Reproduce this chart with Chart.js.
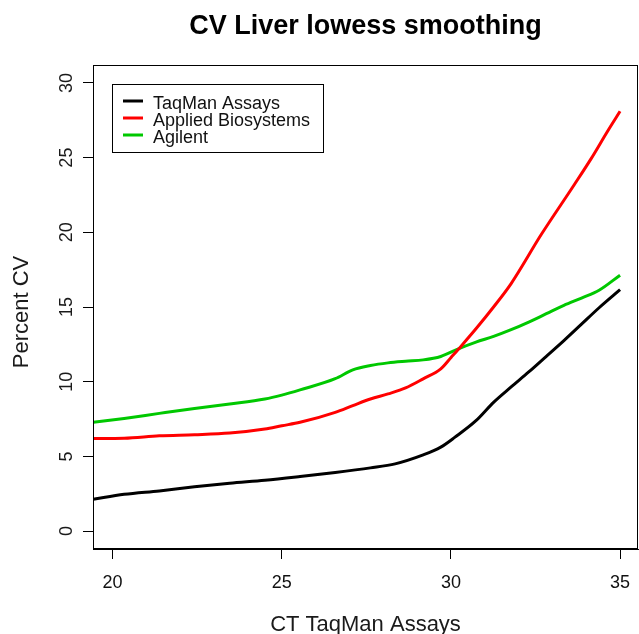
<!DOCTYPE html>
<html><head><meta charset="utf-8">
<script src="https://cdn.jsdelivr.net/npm/chart.js@4.4.0/dist/chart.umd.min.js"></script>
<style>html,body{margin:0;padding:0;background:#fff;}</style>
</head><body>
<canvas id="c" width="639" height="634"></canvas>
<script>
const chartTitle = "CV Liver lowess smoothing";
const xAxisTitle = "CT TaqMan Assays";
const yAxisTitle = "Percent CV";
const seriesNames = ["TaqMan Assays", "Applied Biosystems", "Agilent"];
const seriesColors = ["#000000", "#ff0000", "#00c800"];
const xTicks = [20, 25, 30, 35];
const yTicks = [0, 5, 10, 15, 20, 25, 30];

const taqmanX = [19.43, 20.34, 21.38, 22.42, 23.46, 24.50, 25.54, 26.58, 27.62, 28.35, 29.18, 29.70, 30.11, 30.74, 31.26, 31.78, 32.30, 32.82, 33.34, 33.86, 34.38, 35.00];
const taqmanY = [2.13, 2.46, 2.69, 2.96, 3.20, 3.40, 3.65, 3.92, 4.23, 4.50, 5.10, 5.62, 6.27, 7.39, 8.62, 9.65, 10.65, 11.70, 12.75, 13.85, 14.95, 16.16];

const appliedX = [19.43, 20.34, 21.38, 22.42, 23.46, 24.50, 25.00, 25.54, 26.58, 27.10, 27.62, 28.14, 28.66, 29.18, 29.70, 30.01, 30.32, 30.74, 31.26, 31.78, 32.67, 33.65, 34.15, 34.64, 35.00];
const appliedY = [6.20, 6.22, 6.38, 6.45, 6.56, 6.83, 7.05, 7.28, 7.95, 8.40, 8.84, 9.18, 9.58, 10.19, 10.86, 11.64, 12.43, 13.54, 15.00, 16.57, 19.85, 23.20, 24.95, 26.80, 28.10];

const agilentX = [19.43, 20.34, 21.38, 22.42, 23.46, 24.50, 25.00, 25.54, 26.58, 27.10, 27.62, 28.14, 28.66, 29.18, 29.70, 30.22, 30.74, 31.26, 31.78, 32.30, 32.82, 33.34, 33.86, 34.38, 35.00];
const agilentY = [7.28, 7.54, 7.88, 8.21, 8.51, 8.84, 9.10, 9.45, 10.20, 10.79, 11.08, 11.26, 11.37, 11.46, 11.69, 12.20, 12.65, 13.03, 13.48, 13.99, 14.55, 15.11, 15.60, 16.12, 17.13];

const pts = (xs, ys) => xs.map((x, i) => ({x: x, y: ys[i]}));
const FONT = "'Liberation Sans', Arial, 'DejaVu Sans', sans-serif";

const decorPlugin = {
  id: 'decor',
  afterDatasetsDraw(chart) {
    const ctx = chart.ctx, a = chart.chartArea;
    ctx.save();
    ctx.strokeStyle = '#000'; ctx.lineWidth = 1;
    ctx.strokeRect(Math.round(a.left) + 0.5, Math.round(a.top) + 0.5, Math.round(a.right - a.left) - 1, Math.round(a.bottom - a.top) - 1);
    ctx.restore();
  },
  afterDraw(chart) {
    const ctx = chart.ctx, a = chart.chartArea;
    const ys = chart.scales.y;
    ctx.save();
    // title
    ctx.fillStyle = '#000';
    ctx.font = "bold 27px " + FONT;
    ctx.textAlign = 'center'; ctx.textBaseline = 'alphabetic';
    ctx.fillText(chartTitle, (a.left + a.right) / 2, 34);
    // x axis title
    ctx.fillStyle = '#1a1a1a';
    ctx.font = "22px " + FONT;
    ctx.fillText(xAxisTitle, (a.left + a.right) / 2, 631);
    // y axis title
    ctx.save();
    ctx.translate(28, (a.top + a.bottom) / 2 + 5);
    ctx.rotate(-Math.PI / 2);
    ctx.fillText(yAxisTitle, 0, 0);
    ctx.restore();
    // y tick labels (rotated, as in R)
    ctx.font = "18px " + FONT;
    yTicks.forEach(v => {
      const py = ys.getPixelForValue(v);
      ctx.save();
      ctx.translate(72, py);
      ctx.rotate(-Math.PI / 2);
      ctx.fillText(String(v), 0, 0);
      ctx.restore();
    });
    // legend
    const lx = 112, ly = 84, lw = 211, lh = 68;
    ctx.fillStyle = '#fff';
    ctx.fillRect(lx, ly, lw, lh);
    ctx.strokeStyle = '#000'; ctx.lineWidth = 1;
    ctx.strokeRect(lx + 0.5, ly + 0.5, lw, lh);
    ctx.font = "18px " + FONT;
    ctx.textAlign = 'left';
    seriesNames.forEach((name, i) => {
      const rowY = 101 + i * 17;
      ctx.strokeStyle = seriesColors[i]; ctx.lineWidth = 3;
      ctx.beginPath(); ctx.moveTo(123, rowY); ctx.lineTo(143, rowY); ctx.stroke();
      ctx.fillStyle = '#111';
      ctx.fillText(name, 153, rowY + 7.5);
    });
    ctx.restore();
  }
};

const mkDs = (i, xs, ys) => ({
  label: seriesNames[i], data: pts(xs, ys), borderColor: seriesColors[i],
  borderWidth: 3, pointRadius: 0, fill: false, cubicInterpolationMode: 'monotone'
});

new Chart(document.getElementById('c'), {
  type: 'line',
  data: { datasets: [mkDs(0, taqmanX, taqmanY), mkDs(1, appliedX, appliedY), mkDs(2, agilentX, agilentY)] },
  options: {
    responsive: false, animation: false, devicePixelRatio: 1,
    layout: { padding: { top: 65, right: 1, left: 0, bottom: 0 } },
    plugins: { legend: { display: false }, title: { display: false }, tooltip: { enabled: false } },
    scales: {
      x: {
        type: 'linear', min: 19.42, max: 35.53,
        afterBuildTicks: s => { s.ticks = xTicks.map(v => ({ value: v })); },
        afterFit: s => { s.height = 85; s.paddingLeft = 0; s.paddingRight = 0; },
        ticks: { font: { size: 18, family: FONT }, color: '#111', padding: 13, maxRotation: 0, autoSkip: false },
        grid: { drawOnChartArea: false, drawTicks: true, tickLength: 10, color: '#000', lineWidth: 1 },
        border: { display: true, color: '#000', width: 1 }
      },
      y: {
        type: 'linear', min: -1.2, max: 31.2,
        afterBuildTicks: s => { s.ticks = yTicks.map(v => ({ value: v })); },
        afterFit: s => { s.width = 93; s.paddingTop = 0; s.paddingBottom = 0; },
        ticks: { display: false },
        grid: { drawOnChartArea: false, drawTicks: true, tickLength: 10, color: '#000', lineWidth: 1 },
        border: { display: true, color: '#000', width: 1 }
      }
    }
  },
  plugins: [decorPlugin]
});
</script>
</body></html>
